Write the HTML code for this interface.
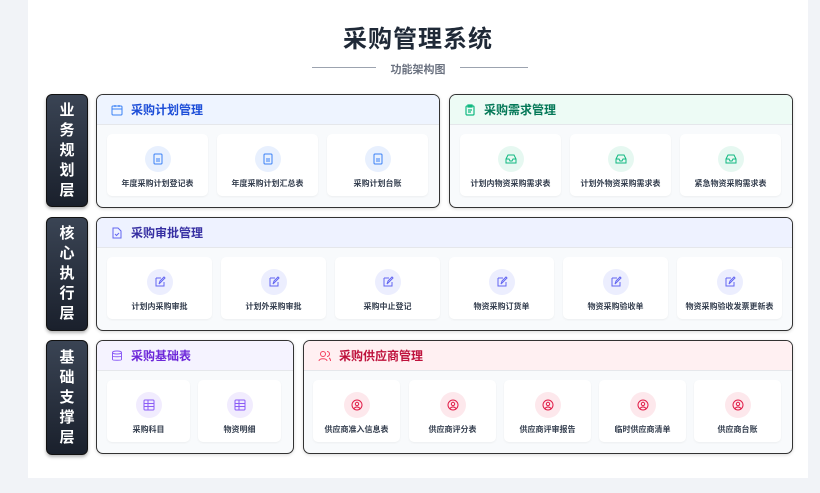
<!DOCTYPE html><html><head><meta charset="utf-8"><style>
*{margin:0;padding:0;box-sizing:border-box}
body{width:820px;height:493px;background:#f1f3f7;font-family:"Liberation Sans","Noto Sans CJK SC",sans-serif;position:relative;overflow:hidden}
.panel{position:absolute;left:28px;top:0;width:780px;height:478px;background:#fff}
.a{position:absolute}
.t{left:0;width:836px;top:19px;text-align:center;font-size:24px;font-weight:700;color:#1f2937;letter-spacing:1px}
.st{left:0;width:836px;top:61px;text-align:center;font-size:11px;font-weight:700;color:#6b7280}
.ln{height:1px;background:#9ca3af;top:67px}
.ly{left:46px;width:42px;background:linear-gradient(#3a4454,#1a202c);border-radius:6px;border:1px solid #111;color:#fff;font-size:15px;font-weight:700;display:flex;flex-direction:column;justify-content:center;align-items:center;line-height:20px;box-shadow:0 2px 3px rgba(0,0,0,.3)}
.bx{border:1px solid #333;border-radius:7px;background:#f8fafc;overflow:hidden;box-shadow:0 1px 3px rgba(0,0,0,.15)}
.hd{height:30px;display:flex;align-items:center;padding-left:14px;font-size:12px;font-weight:700;border-bottom:1px solid #e5e7eb}
.hd svg{margin-right:8px}
.c{background:#fff;border-radius:5px;box-shadow:0 1px 2px rgba(0,0,0,.05);height:62px}
.c .ic{position:absolute;left:50%;top:12px;width:26px;height:26px;margin-left:-13px;border-radius:50%;display:flex;align-items:center;justify-content:center}
.c .lb{position:absolute;left:0;right:0;top:44px;text-align:center;font-size:8px;color:#374151;font-weight:700}
</style></head><body>
<div class="panel"></div>
<div class="a t">采购管理系统</div>
<div class="a st">功能架构图</div>
<div class="a ln" style="left:312px;width:64px"></div>
<div class="a ln" style="left:460px;width:68px"></div>

<div class="a ly" style="top:94px;height:113px"><span>业</span><span>务</span><span>规</span><span>划</span><span>层</span></div>
<div class="a ly" style="top:217px;height:114px"><span>核</span><span>心</span><span>执</span><span>行</span><span>层</span></div>
<div class="a ly" style="top:340px;height:115px"><span>基</span><span>础</span><span>支</span><span>撑</span><span>层</span></div>

<!-- row1 -->
<div class="a bx" style="left:96px;top:94px;width:344px;height:114px"><div class="hd" style="background:#eef4ff;color:#1d4ed8"><svg width="12" height="12" viewBox="0 0 12 12" fill="none" stroke="#3b82f6" stroke-width="1"><rect x="1" y="2" width="10" height="9" rx="1"/><path d="M1 5h10M4 1v2M8 1v2"/></svg>采购计划管理</div></div>
<div class="a bx" style="left:449px;top:94px;width:344px;height:114px"><div class="hd" style="background:#edfbf5;color:#047857"><svg width="12" height="12" viewBox="0 0 12 12" fill="none" stroke="#10b981" stroke-width="1.2"><rect x="2" y="2" width="8" height="9" rx="1"/><path d="M4 1h4v2H4zM4 6h4M4 8h3"/></svg>采购需求管理</div></div>

<div class="a c" style="left:107px;top:134px;width:101px"><div class="ic" style="background:#e8f0fe"><svg width="10" height="12"><rect x="1" y="1" width="8" height="10" rx="1" fill="none" stroke="#3b82f6"/><path d="M3 6h4M3 8h4" stroke="#3b82f6"/></svg></div><div class="lb">年度采购计划登记表</div></div>
<div class="a c" style="left:217px;top:134px;width:101px"><div class="ic" style="background:#e8f0fe"><svg width="10" height="12"><rect x="1" y="1" width="8" height="10" rx="1" fill="none" stroke="#3b82f6"/><path d="M3 6h4M3 8h4" stroke="#3b82f6"/></svg></div><div class="lb">年度采购计划汇总表</div></div>
<div class="a c" style="left:327px;top:134px;width:101px"><div class="ic" style="background:#e8f0fe"><svg width="10" height="12"><rect x="1" y="1" width="8" height="10" rx="1" fill="none" stroke="#3b82f6"/><path d="M3 6h4M3 8h4" stroke="#3b82f6"/></svg></div><div class="lb">采购计划台账</div></div>

<div class="a c" style="left:460px;top:134px;width:101px"><div class="ic" style="background:#e6f8f1"><svg width="12" height="10"><path d="M1 5l2-4h6l2 4v4H1zM1 5h3l1 2h2l1-2h3" fill="none" stroke="#10b981"/></svg></div><div class="lb">计划内物资采购需求表</div></div>
<div class="a c" style="left:570px;top:134px;width:101px"><div class="ic" style="background:#e6f8f1"><svg width="12" height="10"><path d="M1 5l2-4h6l2 4v4H1zM1 5h3l1 2h2l1-2h3" fill="none" stroke="#10b981"/></svg></div><div class="lb">计划外物资采购需求表</div></div>
<div class="a c" style="left:680px;top:134px;width:101px"><div class="ic" style="background:#e6f8f1"><svg width="12" height="10"><path d="M1 5l2-4h6l2 4v4H1zM1 5h3l1 2h2l1-2h3" fill="none" stroke="#10b981"/></svg></div><div class="lb">紧急物资采购需求表</div></div>

<!-- row2 -->
<div class="a bx" style="left:96px;top:217px;width:697px;height:114px"><div class="hd" style="background:#eef2ff;color:#3730a3"><svg width="12" height="12" viewBox="0 0 12 12" fill="none" stroke="#6366f1" stroke-width="1"><path d="M2 1h5l3 3v7H2z"/><path d="M4 7l1.5 1.5L8 6"/></svg>采购审批管理</div></div>
<div class="a c" style="left:107px;top:257px;width:105px"><div class="ic" style="background:#eceefe"><svg width="12" height="12"><path d="M2 2h5M2 2v8h8V6M5 8l1-3 4-4 1 1-4 4z" fill="none" stroke="#6366f1"/></svg></div><div class="lb">计划内采购审批</div></div>
<div class="a c" style="left:221px;top:257px;width:105px"><div class="ic" style="background:#eceefe"><svg width="12" height="12"><path d="M2 2h5M2 2v8h8V6M5 8l1-3 4-4 1 1-4 4z" fill="none" stroke="#6366f1"/></svg></div><div class="lb">计划外采购审批</div></div>
<div class="a c" style="left:335px;top:257px;width:105px"><div class="ic" style="background:#eceefe"><svg width="12" height="12"><path d="M2 2h5M2 2v8h8V6M5 8l1-3 4-4 1 1-4 4z" fill="none" stroke="#6366f1"/></svg></div><div class="lb">采购中止登记</div></div>
<div class="a c" style="left:449px;top:257px;width:105px"><div class="ic" style="background:#eceefe"><svg width="12" height="12"><path d="M2 2h5M2 2v8h8V6M5 8l1-3 4-4 1 1-4 4z" fill="none" stroke="#6366f1"/></svg></div><div class="lb">物资采购订货单</div></div>
<div class="a c" style="left:563px;top:257px;width:105px"><div class="ic" style="background:#eceefe"><svg width="12" height="12"><path d="M2 2h5M2 2v8h8V6M5 8l1-3 4-4 1 1-4 4z" fill="none" stroke="#6366f1"/></svg></div><div class="lb">物资采购验收单</div></div>
<div class="a c" style="left:677px;top:257px;width:105px"><div class="ic" style="background:#eceefe"><svg width="12" height="12"><path d="M2 2h5M2 2v8h8V6M5 8l1-3 4-4 1 1-4 4z" fill="none" stroke="#6366f1"/></svg></div><div class="lb">物资采购验收发票更新表</div></div>

<!-- row3 -->
<div class="a bx" style="left:96px;top:340px;width:198px;height:114px"><div class="hd" style="background:#f5f3ff;color:#6d28d9"><svg width="12" height="12" viewBox="0 0 12 12" fill="none" stroke="#8b5cf6" stroke-width="1"><ellipse cx="6" cy="2.5" rx="4.5" ry="1.5"/><path d="M1.5 2.5v7c0 1 9 1 9 0v-7M1.5 6c0 1 9 1 9 0"/></svg>采购基础表</div></div>
<div class="a bx" style="left:303px;top:340px;width:490px;height:114px"><div class="hd" style="background:#fff0f2;color:#be123c"><svg width="13" height="12" viewBox="0 0 13 12" fill="none" stroke="#f43f5e" stroke-width="1"><circle cx="5" cy="4" r="2.5"/><path d="M1 11c0-3 8-3 8 0M9 1.5a2.5 2.5 0 010 5M11 8c1 .5 1.5 1.5 1.5 3"/></svg>采购供应商管理</div></div>

<div class="a c" style="left:107px;top:380px;width:83px"><div class="ic" style="background:#f1ecfe"><svg width="12" height="12"><rect x="1" y="1" width="10" height="10" rx="1" fill="none" stroke="#8b5cf6"/><path d="M1 4.5h10M1 7.5h10M5 1v10" stroke="#8b5cf6"/></svg></div><div class="lb">采购科目</div></div>
<div class="a c" style="left:198px;top:380px;width:83px"><div class="ic" style="background:#f1ecfe"><svg width="12" height="12"><rect x="1" y="1" width="10" height="10" rx="1" fill="none" stroke="#8b5cf6"/><path d="M1 4.5h10M1 7.5h10M5 1v10" stroke="#8b5cf6"/></svg></div><div class="lb">物资明细</div></div>

<div class="a c" style="left:313px;top:380px;width:87px"><div class="ic" style="background:#fde8ec"><svg width="12" height="12"><circle cx="6" cy="6" r="5" fill="none" stroke="#e11d48"/><circle cx="6" cy="5" r="1.7" fill="none" stroke="#e11d48"/><path d="M3 9.5c1.5-2 4.5-2 6 0" fill="none" stroke="#e11d48"/></svg></div><div class="lb">供应商准入信息表</div></div>
<div class="a c" style="left:409px;top:380px;width:87px"><div class="ic" style="background:#fde8ec"><svg width="12" height="12"><circle cx="6" cy="6" r="5" fill="none" stroke="#e11d48"/><circle cx="6" cy="5" r="1.7" fill="none" stroke="#e11d48"/><path d="M3 9.5c1.5-2 4.5-2 6 0" fill="none" stroke="#e11d48"/></svg></div><div class="lb">供应商评分表</div></div>
<div class="a c" style="left:504px;top:380px;width:87px"><div class="ic" style="background:#fde8ec"><svg width="12" height="12"><circle cx="6" cy="6" r="5" fill="none" stroke="#e11d48"/><circle cx="6" cy="5" r="1.7" fill="none" stroke="#e11d48"/><path d="M3 9.5c1.5-2 4.5-2 6 0" fill="none" stroke="#e11d48"/></svg></div><div class="lb">供应商评审报告</div></div>
<div class="a c" style="left:599px;top:380px;width:87px"><div class="ic" style="background:#fde8ec"><svg width="12" height="12"><circle cx="6" cy="6" r="5" fill="none" stroke="#e11d48"/><circle cx="6" cy="5" r="1.7" fill="none" stroke="#e11d48"/><path d="M3 9.5c1.5-2 4.5-2 6 0" fill="none" stroke="#e11d48"/></svg></div><div class="lb">临时供应商清单</div></div>
<div class="a c" style="left:694px;top:380px;width:87px"><div class="ic" style="background:#fde8ec"><svg width="12" height="12"><circle cx="6" cy="6" r="5" fill="none" stroke="#e11d48"/><circle cx="6" cy="5" r="1.7" fill="none" stroke="#e11d48"/><path d="M3 9.5c1.5-2 4.5-2 6 0" fill="none" stroke="#e11d48"/></svg></div><div class="lb">供应商台账</div></div>
</body></html>
